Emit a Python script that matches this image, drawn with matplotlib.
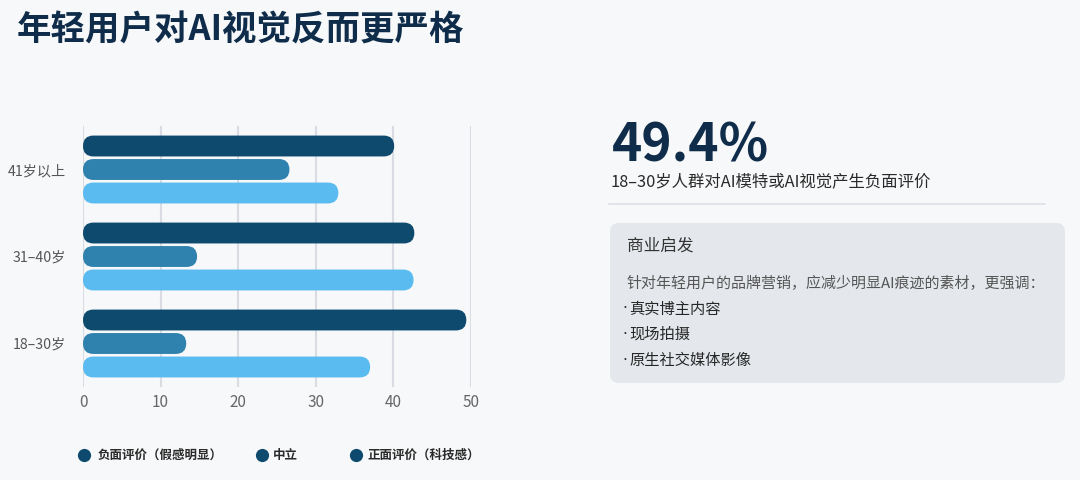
import matplotlib.pyplot as plt
from matplotlib.patches import FancyBboxPatch
from matplotlib.lines import Line2D

plt.rcParams['font.family'] = ['Noto Sans CJK SC', 'DejaVu Sans']

# ===================== 数据 =====================
groups = ['18–30岁', '31–40岁', '41岁以上']
series = ['负面评价（假感明显）', '中立', '正面评价（科技感）']
negative = [49.4, 42.7, 40.1]
neutral = [13.3, 14.7, 26.6]
positive = [37.0, 42.6, 32.9]
colors = ['#0e4a6e', '#2f81ae', '#5abbf1']
x_ticks = [0, 10, 20, 30, 40, 50]

headline = '49.4%'
headline_note = '18–30岁人群对AI模特或AI视觉产生负面评价'
box_title = '商业启发'
box_body = '针对年轻用户的品牌营销，应减少明显AI痕迹的素材，更强调：'
box_points = ['真实博主内容', '现场拍摄', '原生社交媒体影像']

W, H = 1080, 480
BG = '#f7f8f9'


def fx(px):
    return px / W


def fy(py):
    return 1 - py / H


fig = plt.figure(figsize=(W / 100, H / 100), dpi=100, facecolor=BG)

# ===================== 标题 =====================
fig.text(fx(17), fy(30), '年轻用户对AI视觉反而更严格', fontsize=24.8, fontweight='bold',
         color='#0f2d4a', va='center', ha='left')

# ===================== 条形图 =====================
ax = fig.add_axes([fx(83), fy(387), fx(471) - fx(83), fy(126) - fy(387)])
ax.set_facecolor('none')
ax.set_xlim(0, 50)
ax.set_ylim(-0.5, 2.5)

bbox = ax.get_window_extent()
x_per_px = 50 / bbox.width
y_per_px = 3 / bbox.height
aspect = y_per_px / x_per_px

bar_h = 0.24
offsets = [0.27, 0.0, -0.27]
for vals, off, c in zip([negative, neutral, positive], offsets, colors):
    for i, v in enumerate(vals):
        r = 0.999 * bar_h / (2 * aspect)
        p = FancyBboxPatch((0, i + off - bar_h / 2), v, bar_h,
                           boxstyle=f'round,pad=0,rounding_size={r}',
                           mutation_aspect=aspect, facecolor=c, edgecolor='none', zorder=3)
        ax.add_patch(p)

ax.set_xticks(x_ticks)
ax.set_yticks(range(len(groups)))
ax.set_yticklabels(groups)
ax.grid(axis='x', color='#d9dde3', lw=1.5, zorder=0)
ax.set_axisbelow(True)
for s in ax.spines.values():
    s.set_visible(False)
ax.tick_params(axis='y', length=0, pad=12, labelsize=10.2, labelcolor='#555555')
ax.tick_params(axis='x', length=0, pad=5, labelsize=11, labelcolor='#666666')

# 图例（圆点全部为深色），逐项摆放
legend_dot_x = [84, 262, 356]
legend_text_x = [98, 273, 367]
for dx, tx, name in zip(legend_dot_x, legend_text_x, series):
    fig.add_artist(Line2D([fx(dx)], [fy(455)], marker='o', linestyle='none', markersize=9.5,
                          markerfacecolor=colors[0], markeredgecolor='none'))
    fig.text(fx(tx), fy(455), name, fontsize=9, fontweight='bold', color='#2a2a2a',
             va='center', ha='left')

# ===================== 右侧说明 =====================
fig.text(fx(612), fy(161), headline, fontsize=37, fontweight='bold', color='#0f2d4a',
         va='baseline', ha='left')
fig.text(fx(611), fy(182), headline_note, fontsize=11.8, color='#2a2a2a', va='center', ha='left')
fig.add_artist(Line2D([fx(609), fx(1045)], [fy(204), fy(204)], color='#dde1e6', lw=1.2))

box = FancyBboxPatch((fx(610), fy(383)), fx(1065) - fx(610), fy(223) - fy(383),
                     boxstyle=f'round,pad=0,rounding_size={fx(9)}',
                     mutation_aspect=W / H, transform=fig.transFigure,
                     facecolor='#e4e8ec', edgecolor='none')
fig.add_artist(box)
fig.text(fx(627), fy(246), box_title, fontsize=12, color='#333333',
         va='center', ha='left')
fig.text(fx(627), fy(283), box_body, fontsize=10.8, color='#555555', va='center', ha='left')
for k, t in enumerate(box_points):
    y = fy(309 + 25.5 * k)
    fig.text(fx(622), y, '·', fontsize=11, color='#333333', va='center', ha='left',
             family='DejaVu Sans')
    fig.text(fx(629), y, t, fontsize=11, color='#262626',
             va='center', ha='left')

fig.savefig('out.png', dpi=100, facecolor=BG)
